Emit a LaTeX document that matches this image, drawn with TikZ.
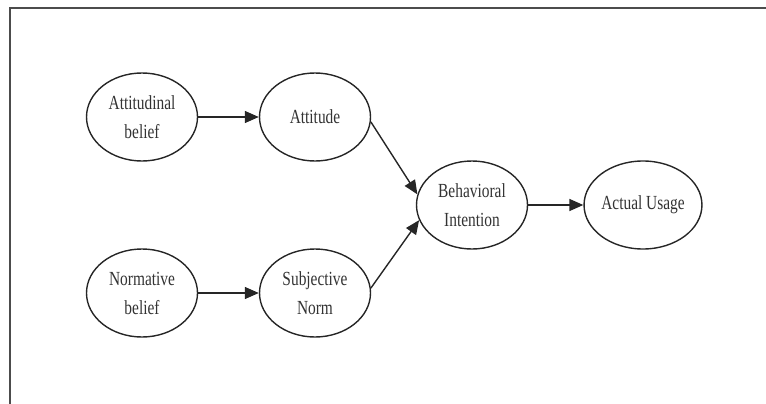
\documentclass[tikz,border=0pt]{standalone}
\usepackage{fontspec}
\setmainfont[FakeStretch=0.77]{Liberation Serif}
\usetikzlibrary{shapes.geometric,arrows.meta}
\begin{document}
\begin{tikzpicture}[x=1pt,y=1pt,
  ell/.style={ellipse,draw=black!85,line width=1.4pt,minimum width=111pt,minimum height=88pt,inner sep=0pt,align=center,font=\fontsize{20}{29}\selectfont,text=black!80},
  arr/.style={-{Triangle[length=14pt,width=12pt]},line width=1.4pt,draw=black!85,fill=black!85}]
\useasboundingbox (0,0) rectangle (766,-404);
\draw[line width=2pt,black!70] (766,-8) -- (10,-8) -- (10,-404);
\node[ell] (ab) at (142,-117) {Attitudinal\\belief};
\node[ell] (att) at (315,-117) {Attitude};
\node[ell] (nb) at (142,-293) {Normative\\belief};
\node[ell] (sn) at (315,-293) {Subjective\\Norm};
\node[ell] (bi) at (472,-205) {Behavioral\\Intention};
\node[ell] (au) at (643,-205) {Actual Usage};
\draw[arr] (ab) -- (att);
\draw[arr] (nb) -- (sn);
\draw[arr] (bi) -- (au);
\draw[arr] (att.-5) -- (bi.169);
\draw[arr] (sn.5) -- (bi.196);
\end{tikzpicture}
\end{document}
